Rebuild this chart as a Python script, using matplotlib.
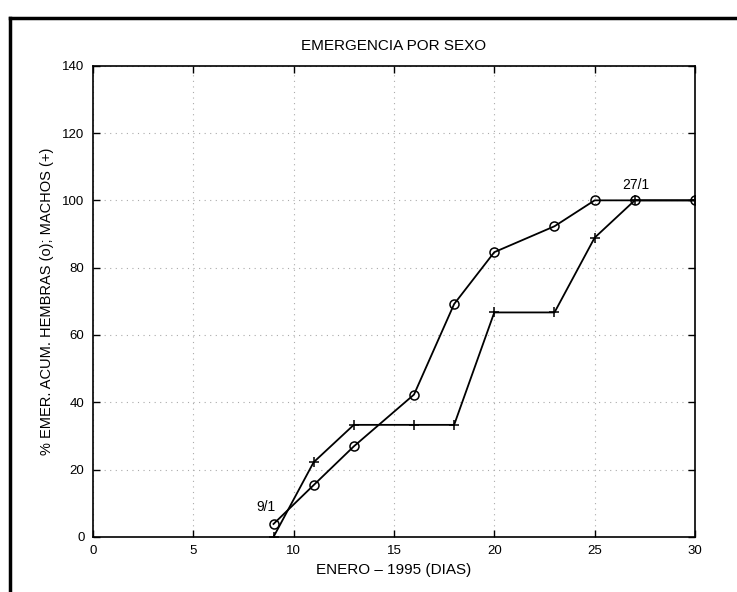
import matplotlib
matplotlib.use("Agg")
import matplotlib.pyplot as plt
from matplotlib.lines import Line2D

# dias de enero y % acumulado de emergencia
dias = [9, 11, 13, 16, 18, 20, 23, 25, 27, 30]
hembras = [3.85, 15.4, 26.9, 42.3, 69.2, 84.6, 92.3, 100, 100, 100]
machos = [0, 22.2, 33.3, 33.3, 33.3, 66.7, 66.7, 88.9, 100, 100]
xticks = [0, 5, 10, 15, 20, 25, 30]
yticks = [0, 20, 40, 60, 80, 100, 120, 140]

plt.rcParams['font.family'] = ['Liberation Sans', 'DejaVu Sans']

fig = plt.figure(figsize=(7.37, 5.92), dpi=100)
ax = fig.add_axes([0.126, 0.093, 0.817, 0.796])

ax.plot(dias, hembras, color='black', lw=1.3, marker='o', ms=6.5,
        mfc='none', mec='black', mew=1.1)
ax.plot(dias, machos, color='black', lw=1.3, marker='+', ms=7, mew=1.1)

ax.annotate('9/1', (dias[0], hembras[0]), xytext=(8.6, 8.8),
            ha='center', va='center', fontsize=10)
ax.annotate('27/1', (27, 100), xytext=(27.05, 104.5),
            ha='center', va='center', fontsize=10)

ax.set_xlim(0, 30)
ax.set_ylim(0, 140)
ax.set_xticks(xticks)
ax.set_yticks(yticks)
ax.tick_params(direction='in', top=True, right=True, length=5,
               width=1, labelsize=9.5)
ax.tick_params(axis='x', pad=6)
ax.tick_params(axis='y', pad=6)
ax.grid(True, linestyle=(0, (1, 4)), color='#aaaaaa', linewidth=0.8)
for s in ax.spines.values():
    s.set_linewidth(1.2)

ax.set_title('EMERGENCIA POR SEXO', fontsize=11, pad=11)
ax.set_xlabel('ENERO – 1995 (DIAS)', fontsize=11, labelpad=4)
ax.set_ylabel('% EMER. ACUM. HEMBRAS (o); MACHOS (+)', fontsize=10.5, labelpad=6)

# marco exterior (solo arriba e izquierda visibles)
fig.add_artist(Line2D([0.014, 1.0], [0.969, 0.969], color='black', lw=2.5,
                      transform=fig.transFigure))
fig.add_artist(Line2D([0.014, 0.014], [0.0, 0.969], color='black', lw=2.5,
                      transform=fig.transFigure))

fig.savefig('out.png', dpi=100)
